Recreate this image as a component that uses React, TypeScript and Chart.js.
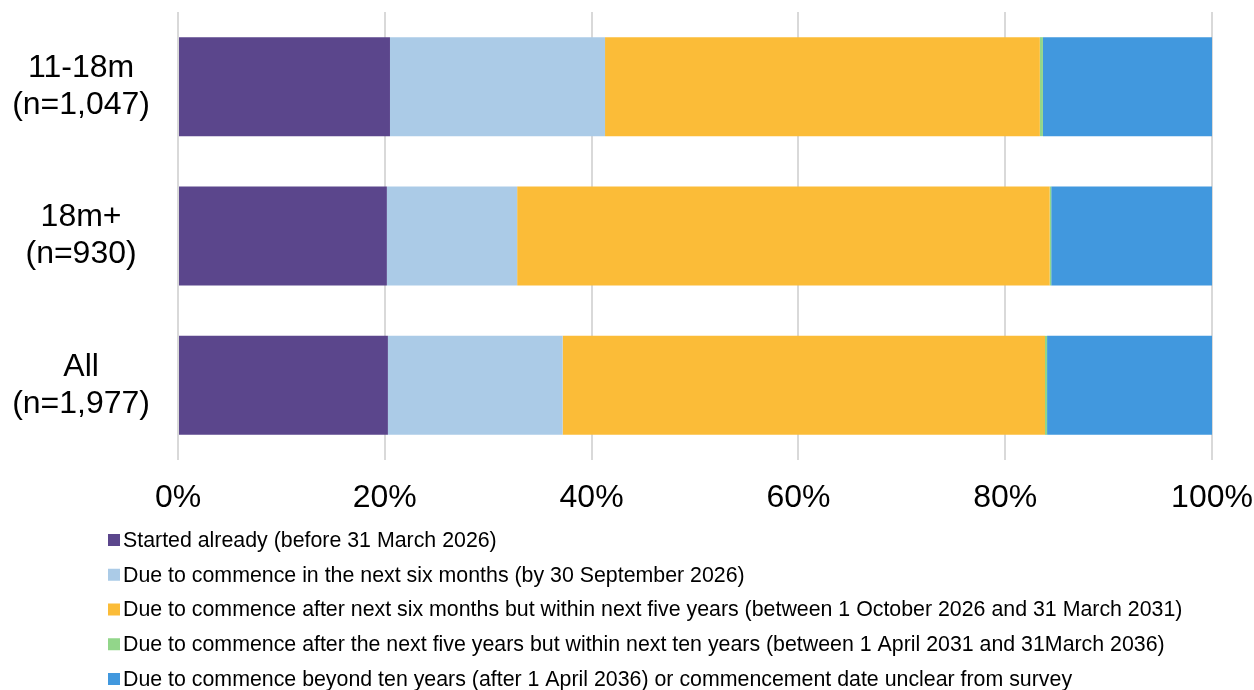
import React, { useEffect, useRef } from "react";
import { Chart, registerables } from "chart.js";

Chart.register(...registerables);

const categories: string[][] = [
  ["11-18m", "(n=1,047)"],
  ["18m+", "(n=930)"],
  ["All", "(n=1,977)"],
];

const seriesLabels: string[] = [
  "Started already (before 31 March 2026)",
  "Due to commence in the next six months (by 30 September 2026)",
  "Due to commence after next six months but within next five years (between 1 October 2026 and 31 March 2031)",
  "Due to commence after the next five years but within next ten years (between 1 April 2031 and 31March 2036)",
  "Due to commence beyond ten years (after 1 April 2036) or commencement date unclear from survey",
];

const startedAlready: number[] = [20.5, 20.2, 20.3];
const nextSixMonths: number[] = [20.8, 12.6, 16.9];
const withinFiveYears: number[] = [42.05, 51.5, 46.65];
const withinTenYears: number[] = [0.3, 0.15, 0.2];
const beyondTenYears: number[] = [16.35, 15.55, 15.95];

const seriesColors: string[] = ["#5B468C", "#ABCBE7", "#FBBC38", "#92D68A", "#4198DE"];

const xTicks: number[] = [0, 20, 40, 60, 80, 100];

const FONT = "'Liberation Sans', Arial, sans-serif";

const legendPlugin = {
  id: "stackedLegend",
  afterDraw(chart: any) {
    const ctx = chart.ctx as CanvasRenderingContext2D;
    ctx.save();
    ctx.font = `21.35px ${FONT}`;
    ctx.textBaseline = "middle";
    ctx.textAlign = "left";
    chart.data.datasets.forEach((ds: any, i: number) => {
      const cy = 540 + i * 34.75;
      ctx.fillStyle = ds.backgroundColor;
      ctx.fillRect(108, cy - 6, 12, 12);
      ctx.fillStyle = "#000";
      ctx.fillText(ds.label, 123, cy + 1);
    });
    ctx.restore();
  },
};

export default function App() {
  const ref = useRef<HTMLCanvasElement | null>(null);

  useEffect(() => {
    if (!ref.current) return;
    const values = [startedAlready, nextSixMonths, withinFiveYears, withinTenYears, beyondTenYears];
    const chart = new Chart(ref.current, {
      type: "bar",
      data: {
        labels: categories as any,
        datasets: values.map((v, i) => ({
          label: seriesLabels[i],
          data: v,
          backgroundColor: seriesColors[i],
          borderWidth: 0,
          categoryPercentage: 1,
          barPercentage: 0.663,
        })),
      },
      options: {
        indexAxis: "y",
        animation: false,
        responsive: false,
        maintainAspectRatio: false,
        layout: { autoPadding: false, padding: { top: 12, right: 42, bottom: 175, left: 13 } },
        plugins: {
          legend: { display: false },
          tooltip: { enabled: false },
        },
        scales: {
          x: {
            stacked: true,
            min: 0,
            max: 100,
            afterBuildTicks: (axis: any) => {
              axis.ticks = xTicks.map((v) => ({ value: v }));
            },
            afterFit: (axis: any) => {
              axis.height = 55;
              axis.paddingLeft = 0;
              axis.paddingRight = 0;
              axis.paddingTop = 0;
              axis.paddingBottom = 0;
            },
            ticks: {
              callback: (v: any) => `${v}%`,
              font: { family: FONT, size: 32 },
              color: "#000",
              padding: 19,
              maxRotation: 0,
            },
            grid: { color: "#D9D9D9", lineWidth: 2, drawTicks: false },
            border: { display: false },
          },
          y: {
            stacked: true,
            afterFit: (axis: any) => {
              axis.width = 165;
              axis.paddingLeft = 0;
              axis.paddingRight = 0;
              axis.paddingTop = 0;
              axis.paddingBottom = 0;
            },
            ticks: {
              font: { family: FONT, size: 32, lineHeight: 1.15 },
              color: "#000",
              crossAlign: "center",
              padding: 28,
            },
            grid: { display: false, drawTicks: false },
            border: { display: false },
          },
        },
      },
      plugins: [legendPlugin],
    });
    return () => chart.destroy();
  }, []);

  return (
    <div style={{ position: "absolute", left: 0, top: 0, width: 1254, height: 690 }}>
      <canvas ref={ref} width={1254} height={690} style={{ display: "block" }} />
    </div>
  );
}
